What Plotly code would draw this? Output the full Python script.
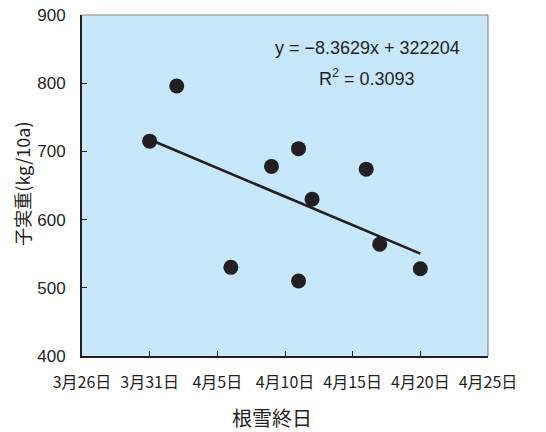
import plotly.graph_objects as go
import datetime as dt

# Data
dates = ["2005-03-31", "2005-04-02", "2005-04-06", "2005-04-09", "2005-04-11",
         "2005-04-11", "2005-04-12", "2005-04-16", "2005-04-17", "2005-04-20"]
yields = [715, 796, 530, 678, 704, 510, 630, 674, 564, 528]

tick_dates = ["2005-03-26", "2005-03-31", "2005-04-05", "2005-04-10",
              "2005-04-15", "2005-04-20", "2005-04-25"]
tick_labels = ["3月26日", "3月31日", "4月5日", "4月10日", "4月15日", "4月20日", "4月25日"]
y_ticks = [400, 500, 600, 700, 800, 900]

slope = -8.3629
intercept = 322204
r2 = 0.3093

def excel_serial(s):
    d = dt.date.fromisoformat(s)
    return (d - dt.date(1899, 12, 30)).days

line_x = [min(dates), max(dates)]
line_y = [slope * excel_serial(d) + intercept for d in line_x]

ink = "#231F20"
fig = go.Figure()
fig.add_trace(go.Scatter(x=line_x, y=line_y, mode="lines",
                         line=dict(color=ink, width=2.6), showlegend=False))
fig.add_trace(go.Scatter(x=dates, y=yields, mode="markers",
                         marker=dict(color=ink, size=15), showlegend=False))

fig.add_annotation(x=0.702, y=0.903, xref="paper", yref="paper",
                   xanchor="center", yanchor="middle",
                   text="y = −8.3629x + 322204", showarrow=False,
                   font=dict(family="Liberation Sans, Arial", size=18, color=ink))
fig.add_annotation(x=0.702, y=0.818, xref="paper", yref="paper",
                   xanchor="center", yanchor="middle",
                   text="R<sup>2</sup> = 0.3093", showarrow=False,
                   font=dict(family="Liberation Sans, Arial", size=18, color=ink))

# axis titles
fig.add_annotation(x=0.468, y=-0.179, xref="paper", yref="paper",
                   xanchor="center", yanchor="middle", showarrow=False,
                   text="根雪終日",
                   font=dict(family="Noto Sans CJK JP", size=20, color=ink))
fig.add_annotation(x=-0.148, y=0.505, xref="paper", yref="paper",
                   xanchor="center", yanchor="middle", showarrow=False,
                   textangle=-90, text="子実重(kg/10a)",
                   font=dict(family="Noto Sans CJK JP", size=18, color=ink))

# top and right border (grey)
fig.add_shape(type="line", xref="paper", yref="paper", x0=0, x1=1, y0=1, y1=1,
              line=dict(color="#8a8a8a", width=1.2))
fig.add_shape(type="line", xref="paper", yref="paper", x0=1, x1=1, y0=0, y1=1,
              line=dict(color="#8a8a8a", width=1.2))

fig.update_layout(
    width=546, height=432,
    margin=dict(l=82, r=58, t=15, b=76),
    paper_bgcolor="white",
    plot_bgcolor="#C6E8FA",
    xaxis=dict(
        type="date", automargin=False,
        range=["2005-03-26", "2005-04-25"],
        tickvals=tick_dates, ticktext=tick_labels,
        ticks="inside", ticklen=5, tickcolor=ink, tickwidth=1,
        showgrid=False, zeroline=False,
        showline=True, linecolor=ink, linewidth=2,
        tickfont=dict(family="Noto Sans CJK JP", size=16, color=ink),
        ticklabelstandoff=11, ticklabeloverflow="allow",
    ),
    yaxis=dict(
        range=[400, 900], automargin=False,
        tickvals=y_ticks,
        ticks="inside", ticklen=5, tickcolor=ink, tickwidth=1,
        showgrid=False, zeroline=False,
        showline=True, linecolor=ink, linewidth=2,
        tickfont=dict(family="Liberation Sans, Arial", size=17, color=ink),
        ticklabelstandoff=11, ticklabeloverflow="allow",
    ),
)

fig.write_html("out.html",
               config={"displayModeBar": False},
               post_script="document.body.style.margin='0px';document.body.style.overflow='hidden';")
